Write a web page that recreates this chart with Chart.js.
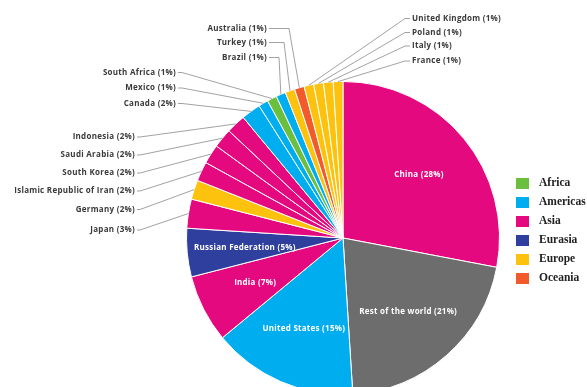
<!DOCTYPE html>
<html>
<head>
<meta charset="utf-8">
<script src="https://cdn.jsdelivr.net/npm/chart.js@4.4.0/dist/chart.umd.min.js"></script>
<style>
  html, body { margin: 0; padding: 0; background: #fff; overflow: hidden; width: 587px; height: 387px; }
  canvas { display: block; }
</style>
</head>
<body>
<canvas id="c" width="587" height="480"></canvas>
<script>
// ---- data ----
const countries = ['China', 'Rest of the world', 'United States', 'India', 'Russian Federation', 'Japan',
  'Germany', 'Islamic Republic of Iran', 'South Korea', 'Saudi Arabia', 'Indonesia', 'Canada',
  'Mexico', 'South Africa', 'Brazil', 'Turkey', 'Australia', 'United Kingdom', 'Poland', 'Italy', 'France'];
const shares = [28, 21, 15, 7, 5, 3, 2, 2, 2, 2, 2, 2, 1, 1, 1, 1, 1, 1, 1, 1, 1];
const countryRegion = ['Asia', 'Other', 'Americas', 'Asia', 'Eurasia', 'Asia',
  'Europe', 'Asia', 'Asia', 'Asia', 'Asia', 'Americas',
  'Americas', 'Africa', 'Americas', 'Europe', 'Oceania', 'Europe', 'Europe', 'Europe', 'Europe'];
const legendRegions = ['Africa', 'Americas', 'Asia', 'Eurasia', 'Europe', 'Oceania'];
const regionColors = {
  Africa: '#6bbf3f', Americas: '#00aeef', Asia: '#e5097f', Eurasia: '#2e3f9e',
  Europe: '#fdc20e', Oceania: '#f15a2b', Other: '#6d6d6d'
};

// ---- label layout (text placement only) ----
const outerLabelLayout = {
  'Australia': [267, 28.5, 'right', 289],
  'Turkey': [267, 42.5, 'right', 284],
  'Brazil': [267, 57.5, 'right', 279],
  'South Africa': [176, 72.5, 'right', 182],
  'Mexico': [176, 88, 'right', 182],
  'Canada': [176, 103.5, 'right', 182],
  'Indonesia': [135, 137, 'right', 140],
  'Saudi Arabia': [135, 155, 'right', 140],
  'South Korea': [135, 173, 'right', 140],
  'Islamic Republic of Iran': [135, 191, 'right', 140],
  'Germany': [135, 209.5, 'right', 140],
  'Japan': [135, 230, 'right', 140],
  'United Kingdom': [412, 18.5, 'left', 405],
  'Poland': [412, 32.5, 'left', 405],
  'Italy': [412, 46, 'left', 405],
  'France': [412, 61, 'left', 405]
};

const labelFont = 'bold 8px "Open Sans", "Liberation Sans", sans-serif';
const innerFont = 'bold 8px "Open Sans", "Liberation Sans", sans-serif';

const labelPlugin = {
  id: 'labels',
  afterDatasetsDraw(chart) {
    const ctx = chart.ctx;
    const meta = chart.getDatasetMeta(0);
    ctx.save();
    ctx.textBaseline = 'middle';
    meta.data.forEach((arc, i) => {
      const name = countries[i];
      const text = name + ' (' + shares[i] + '%)';
      const mid = (arc.startAngle + arc.endAngle) / 2;
      const R = arc.outerRadius;
      const lay = outerLabelLayout[name];
      if (lay) {
        const [tx, ty, side, ex] = lay;
        const px = arc.x + Math.cos(mid) * R;
        const py = arc.y + Math.sin(mid) * R;
        ctx.strokeStyle = '#8a8a8a';
        ctx.lineWidth = 0.8;
        ctx.beginPath();
        const sx = side === 'right' ? tx + 2 : tx - 2;
        ctx.moveTo(sx, ty);
        ctx.lineTo(ex, ty);
        ctx.lineTo(px, py);
        ctx.stroke();
        ctx.font = labelFont;
        ctx.letterSpacing = '0.28px';
        ctx.fillStyle = '#3a3a3a';
        ctx.textAlign = side === 'right' ? 'right' : 'left';
        ctx.fillText(text, tx, ty);
      } else {
        const r = R * 0.63;
        ctx.font = innerFont;
        ctx.letterSpacing = '0.25px';
        ctx.fillStyle = '#ffffff';
        ctx.textAlign = 'center';
        ctx.fillText(text, arc.x + Math.cos(mid) * r, arc.y + Math.sin(mid) * r);
      }
    });
    // legend by region
    ctx.letterSpacing = '0px';
    ctx.font = 'bold 11.5px "Liberation Serif", "DejaVu Serif", serif';
    ctx.textAlign = 'left';
    legendRegions.forEach((reg, j) => {
      const cy = 183.5 + j * 19;
      ctx.fillStyle = regionColors[reg];
      ctx.fillRect(516, cy - 5.5, 13, 11);
      ctx.fillStyle = '#222';
      ctx.fillText(reg, 539, cy);
    });
    ctx.restore();
  }
};

new Chart(document.getElementById('c'), {
  type: 'pie',
  data: {
    labels: countries,
    datasets: [{
      data: shares,
      backgroundColor: countryRegion.map(r => regionColors[r]),
      borderColor: '#ffffff',
      borderWidth: 1
    }]
  },
  options: {
    responsive: false,
    animation: false,
    devicePixelRatio: 1,
    layout: { padding: { left: 186, right: 87, top: 81, bottom: 85 } },
    plugins: { legend: { display: false }, tooltip: { enabled: false } }
  },
  plugins: [labelPlugin]
});
</script>
</body>
</html>
